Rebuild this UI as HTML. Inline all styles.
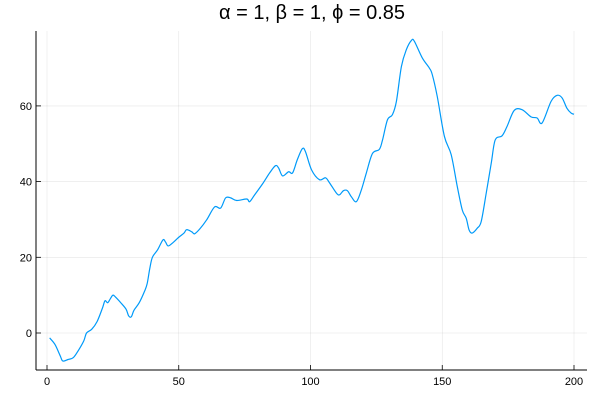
<!DOCTYPE html>
<html><head><meta charset="utf-8"><style>
body{margin:0;background:#fff;}
svg{display:block;font-family:"Liberation Sans","DejaVu Sans",sans-serif;}
</style></head><body>
<svg id="chart" width="600" height="400">
<text x="312" y="19" text-anchor="middle" font-size="20" fill="#000">α = 1, β = 1, ϕ = 0.85</text>
<g id="grid"></g>
<g id="axes"></g>
<path id="series" fill="none" stroke="#009af9" stroke-width="1.2"></path>
</svg>
<script>
const xVals=[1,3,5,6,8,10,12,14,15,17,19,21,22,23,24,25,26,28,30,31,32,33,35,37,38,39,40,42,44,45,46,48,50,52,53,55,56,58,60.6,63.6,65.9,67.8,69.7,72,75.8,76.9,78.8,81.8,84.5,86.7,87.9,89.4,91.7,93.2,95,96.9,98.1,100.4,103.4,105.7,107.2,109.8,111,112.5,114,115.5,117.4,119.3,121.2,123.5,126.1,127.3,129.2,131.1,132.6,134.5,136.4,138.3,139.4,142.4,145.1,146.2,148.1,150.8,153.4,155.7,157.6,159.1,160.2,161.4,163.3,164.8,166.7,168.6,170.1,172.7,174.6,177.3,180.3,183.7,186,187.9,191.3,193.6,195.5,197.3,198.9,200];
const yVals=[-1.3,-3,-6,-7.4,-7,-6.5,-4.5,-2,0,1,3,6.5,8.5,8,9,10,9.5,8,6.3,4.5,4.3,6,8,11,13,17,20,22,24.6,24,23,24,25.3,26.4,27.3,26.7,26.2,27.5,29.9,33.3,33,35.7,35.7,35,35.4,34.7,36.5,39.4,42.3,44.2,43.6,41.5,42.6,42.3,45.8,48.7,47.9,43.1,40.5,41,39.7,37,36.5,37.6,37.6,36,34.7,37.8,42.3,47.4,48.5,50.9,56.3,57.7,61.2,70.4,74.9,77.3,77.1,72.7,70,68.3,62.5,52,47.1,38.7,32.5,30.3,27.2,26.4,27.7,29.5,37,44.9,51,52.1,54.6,58.8,59,57.1,56.8,55.5,61.2,62.8,62.1,59.4,58.1,57.8];
const xTicks=[0,50,100,150,200];
const yTicks=[0,20,40,60];
const X=v=>47+v*2.635;
const Y=v=>333-v*3.785;
const L=36,R=587,T=31,B=370;
const ns="http://www.w3.org/2000/svg";
const grid=document.getElementById('grid'),axes=document.getElementById('axes');
function mk(tag,at,parent){const e=document.createElementNS(ns,tag);for(const k in at)e.setAttribute(k,at[k]);parent.appendChild(e);return e;}
xTicks.forEach(t=>{
 const g=mk('line',{x1:X(t),x2:X(t),y1:T,y2:B,stroke:'#000','stroke-opacity':0.1,'stroke-width':0.6},grid);
 
 
 const tk=mk('line',{x1:X(t),x2:X(t),y1:B,y2:B-5,stroke:'#000','stroke-width':0.8},axes);
 
 
 const tx=mk('text',{x:X(t),y:B+15,'text-anchor':'middle','font-size':11},axes);
 tx.textContent=t;
 
 
});
yTicks.forEach(t=>{
 const g=mk('line',{x1:L,x2:R,y1:Y(t),y2:Y(t),stroke:'#000','stroke-opacity':0.1,'stroke-width':0.6},grid);
 
 
 const tk=mk('line',{x1:L,x2:L+5,y1:Y(t),y2:Y(t),stroke:'#000','stroke-width':0.8},axes);
 
 
 const tx=mk('text',{x:L-4,y:Y(t)+4,'text-anchor':'end','font-size':11},axes);
 tx.textContent=t;
 
 
});
const ax=mk('line',{x1:L,x2:L,y1:T,y2:B,stroke:'#000','stroke-width':1},axes);


const bx=mk('line',{x1:L,x2:R,y1:B,y2:B,stroke:'#000','stroke-width':1},axes);


const pts=xVals.map((x,i)=>[X(x),Y(yVals[i])]);
let d='M'+pts[0][0]+','+pts[0][1];
for(let i=0;i<pts.length-1;i++){
 const p0=pts[Math.max(0,i-1)],p1=pts[i],p2=pts[i+1],p3=pts[Math.min(pts.length-1,i+2)];
 const c1=[p1[0]+(p2[0]-p0[0])/6,p1[1]+(p2[1]-p0[1])/6];
 const c2=[p2[0]-(p3[0]-p1[0])/6,p2[1]-(p3[1]-p1[1])/6];
 d+=` C${c1[0]},${c1[1]} ${c2[0]},${c2[1]} ${p2[0]},${p2[1]}`;
}
document.getElementById('series').setAttribute('d',d);
</script>
</body></html>
